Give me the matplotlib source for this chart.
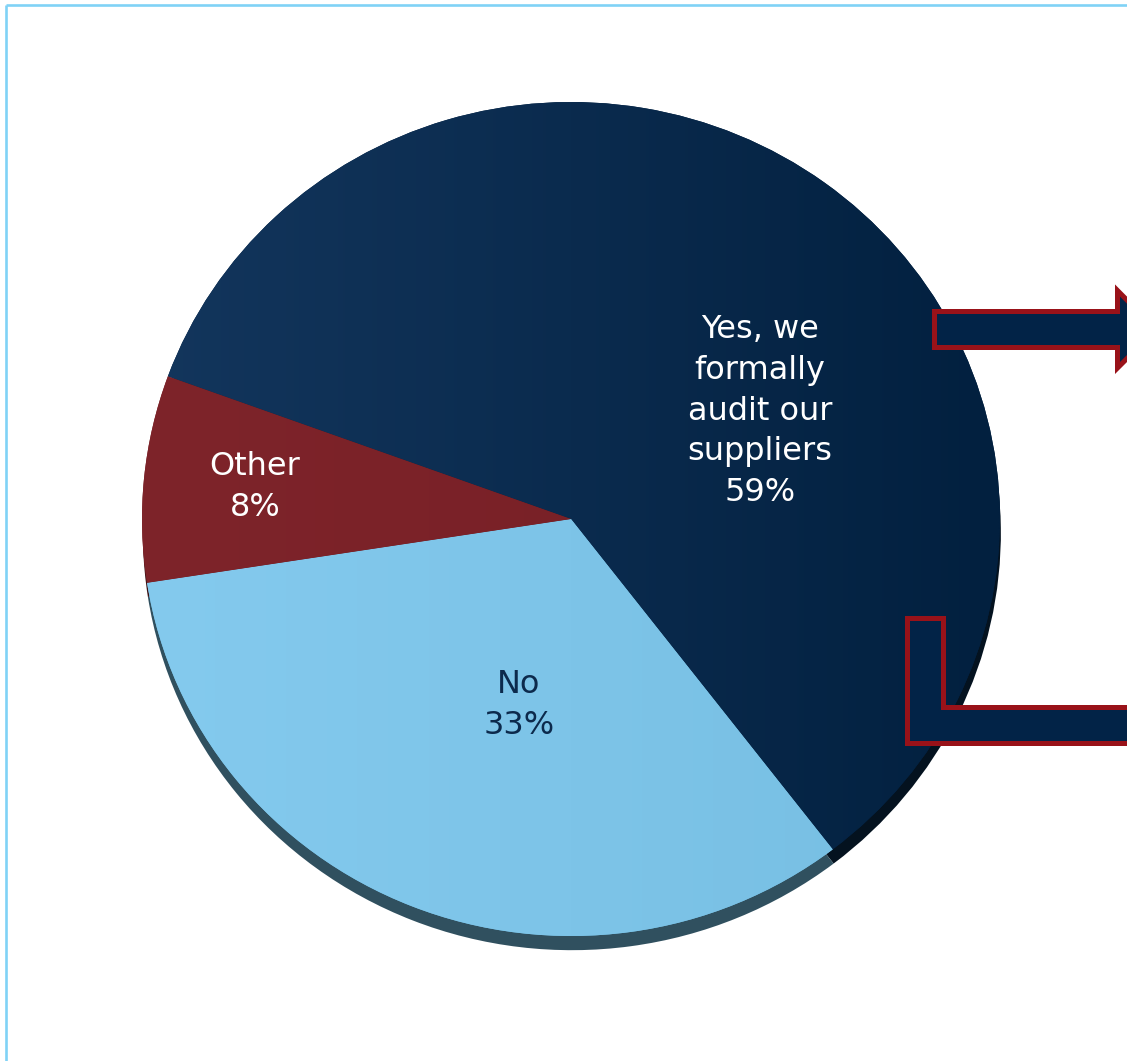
import numpy as np
import matplotlib
matplotlib.use("Agg")
import matplotlib.pyplot as plt
from matplotlib.patches import Polygon
from matplotlib.colors import to_rgb

# Survey answers and their shares (percent)
categories = ["Yes, we\nformally\naudit our\nsuppliers", "No", "Other"]
shares = [59, 33, 8]

# left / right shade of each slice, label colour, shadow colour
shade_left = ["#13365d", "#84caee", "#7e242a"]
shade_right = ["#02203f", "#76bee2", "#751e25"]
label_colors = ["white", "#0c2a4c", "white"]
shadow_colors = ["#04121f", "#30505f", "#3a1215"]
label_pos = [(760, 411), (519, 705), (255, 487)]

W, H = 1127, 1061
fig = plt.figure(figsize=(W / 100, H / 100), dpi=100)
fig.patch.set_facecolor("white")

# ellipse box of the pie in pixel space
cx, cy, rx, ry = 571, 519, 429, 417
pad = 1.1
pax = fig.add_axes([(cx - rx * pad) / W, (H - cy - ry * pad) / H,
                    2 * rx * pad / W, 2 * ry * pad / H])

start = 160
# drop shadow
sh_wedges, _ = pax.pie(shares, startangle=start, counterclock=False,
                       colors=shadow_colors, center=(0.002, -0.034),
                       radius=1, wedgeprops=dict(linewidth=0))
wedges, _ = pax.pie(shares, startangle=start, counterclock=False,
                    colors=shade_right, center=(0, 0), radius=1,
                    wedgeprops=dict(linewidth=0))
pax.set_aspect("auto")
pax.set_xlim(-pad, pad)
pax.set_ylim(-pad, pad)
pax.axis("off")

# horizontal gradient fill clipped to each slice
xs = np.linspace(0, 1, 256)
for w, cl, cr in zip(wedges, shade_left, shade_right):
    a, b = np.array(to_rgb(cl)), np.array(to_rgb(cr))
    grad = a[None, None, :] * (1 - xs[None, :, None]) + b[None, None, :] * xs[None, :, None]
    grad = np.repeat(grad, 4, axis=0)
    im = pax.imshow(grad, extent=(-1, 1, -1, 1), aspect="auto",
                    interpolation="bilinear", zorder=w.get_zorder() + 0.1)
    im.set_clip_path(w)

# overlay in pixel coordinates
ov = fig.add_axes([0, 0, 1, 1])
ov.set_xlim(0, W)
ov.set_ylim(H, 0)
ov.axis("off")
ov.patch.set_alpha(0)

# light blue frame
ov.plot([6, 6], [4.5, H], color="#80d2f6", lw=1.9, solid_capstyle="butt")
ov.plot([6, W], [4.5, 4.5], color="#80d2f6", lw=1.9, solid_capstyle="butt")

navy = "#022347"
red = "#991219"
arrow_right = [(934.5, 311.5), (1117.5, 311.5), (1117.5, 290.5), (1156, 329.5),
               (1117.5, 368), (1117.5, 347.5), (934.5, 347.5)]
arrow_bend = [(906.5, 617.5), (942.5, 617.5), (942.5, 707), (1190, 707),
              (1190, 742.5), (906.5, 742.5)]
for pts in (arrow_right, arrow_bend):
    ov.add_patch(Polygon(pts, closed=True, facecolor=navy, edgecolor=red,
                         lw=3.6, joinstyle="miter"))

for name, val, (x, y), col in zip(categories, shares, label_pos, label_colors):
    ov.text(x, y, f"{name}\n{val}%", ha="center", va="center", color=col,
            fontsize=23, family="DejaVu Sans", linespacing=1.4)

fig.savefig("out.png", dpi=100, facecolor="white")
